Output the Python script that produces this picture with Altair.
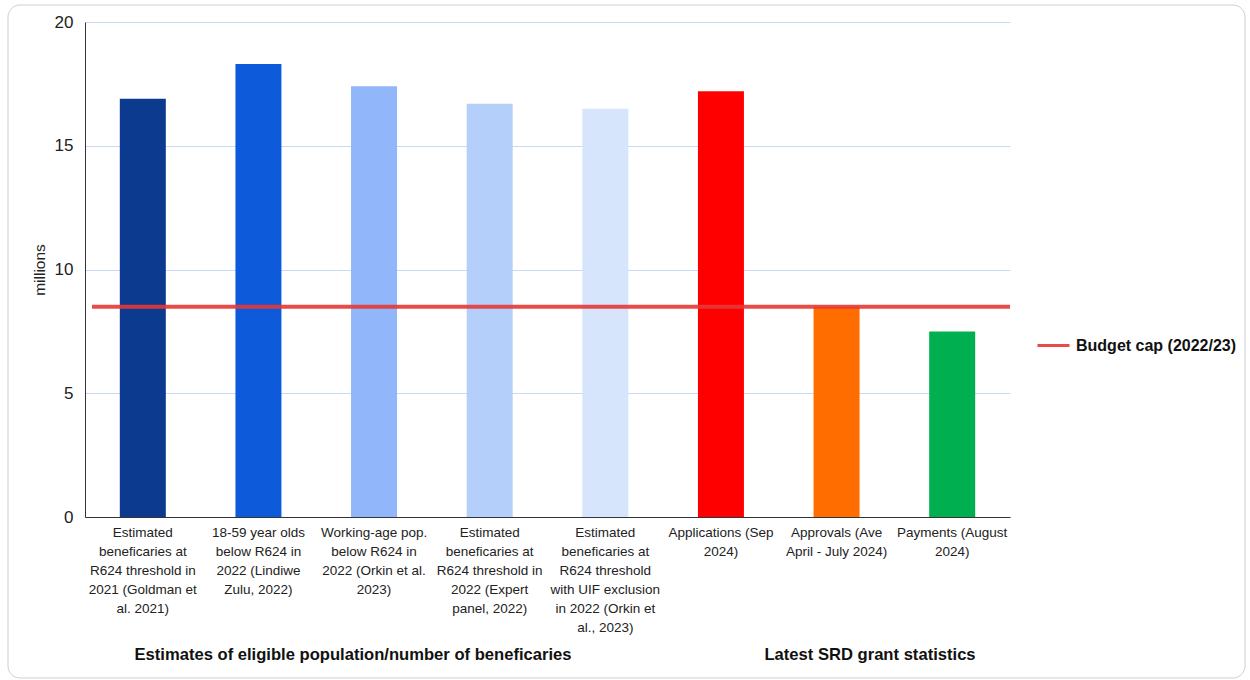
import altair as alt
import pandas as pd

# ---- data ----
CATEGORIES = [
    "Estimated\nbeneficaries at\nR624 threshold in\n2021 (Goldman et\nal. 2021)",
    "18-59 year olds\nbelow R624 in\n2022 (Lindiwe\nZulu, 2022)",
    "Working-age pop.\nbelow R624 in\n2022 (Orkin et al.\n2023)",
    "Estimated\nbeneficaries at\nR624 threshold in\n2022 (Expert\npanel, 2022)",
    "Estimated\nbeneficaries at\nR624 threshold\nwith UIF exclusion\nin 2022 (Orkin et\nal., 2023)",
    "Applications (Sep\n2024)",
    "Approvals (Ave\nApril - July 2024)",
    "Payments (August\n2024)",
]
VALUES = [16.9, 18.3, 17.4, 16.7, 16.5, 17.2, 8.5, 7.5]
BAR_COLORS = ["#0b3a8f", "#0d5bdb", "#91b6f9", "#b5cffb", "#d6e5fb",
              "#ff0000", "#ff6d00", "#00b050"]

BUDGET_LABEL = ["Budget cap (2022/23)"]
BUDGET_VALUE = [8.5]

GROUP_LABELS = ["Estimates of eligible population/number of beneficaries",
                "Latest SRD grant statistics"]

Y_TICKS = [0, 5, 10, 15, 20]

W, H = 925, 495
FONT = "Liberation Sans"

df = pd.DataFrame({"cat": CATEGORIES, "value": VALUES})
budget_df = pd.DataFrame({"name": BUDGET_LABEL, "value": BUDGET_VALUE})

xscale = alt.Scale(domain=CATEGORIES, paddingInner=0, paddingOuter=0)

border = alt.Chart(pd.DataFrame({"a": [0]})).mark_rect(
    fill=None, stroke="#cfcfcf", strokeWidth=1, cornerRadius=12
).encode(x=alt.value(-77), x2=alt.value(1160), y=alt.value(-17), y2=alt.value(656))

bars = alt.Chart(df).mark_bar(size=46).encode(
    x=alt.X("cat:N", scale=xscale, sort=None,
            axis=alt.Axis(labels=False, ticks=False, title=None,
                          domainColor="#333333", domainWidth=1)),
    y=alt.Y("value:Q",
            scale=alt.Scale(domain=[0, 20], nice=False),
            axis=alt.Axis(values=Y_TICKS, title="millions", titleFont=FONT,
                          titleFontSize=15.5, titleFontWeight="normal",
                          titleColor="#222222", titlePadding=7,
                          labelFont=FONT, labelFontSize=17,
                          labelColor="#222222", labelPadding=12, ticks=False,
                          domainColor="#333333", domainWidth=1,
                          gridColor="#c6d9f7", gridWidth=1)),
    color=alt.Color("cat:N", scale=alt.Scale(domain=CATEGORIES, range=BAR_COLORS),
                    legend=None),
)

xlabels = alt.Chart(df).mark_text(
    font=FONT, fontSize=13.5, color="#222222", baseline="top", align="center",
    lineBreak="\n", lineHeight=19
).encode(
    x=alt.X("cat:N", scale=xscale, sort=None),
    y=alt.value(H + 9),
    text="cat:N",
)

group1 = alt.Chart(pd.DataFrame({"t": [GROUP_LABELS[0]]})).mark_text(
    font=FONT, fontSize=16.6, fontWeight="bold", color="#111111",
    baseline="middle", align="center"
).encode(x=alt.value(268), y=alt.value(633), text="t:N")

group2 = alt.Chart(pd.DataFrame({"t": [GROUP_LABELS[1]]})).mark_text(
    font=FONT, fontSize=16.6, fontWeight="bold", color="#111111",
    baseline="middle", align="center"
).encode(x=alt.value(785), y=alt.value(633), text="t:N")

rule = alt.Chart(budget_df).mark_rule(strokeWidth=4, opacity=0.9).encode(
    y=alt.Y("value:Q"),
    x=alt.value(7),
    x2=alt.value(W),
    color=alt.Color("name:N", scale=alt.Scale(range=["#e53935"]),
                    legend=alt.Legend(orient="none", legendX=951, legendY=306,
                                      title=None, symbolType="stroke",
                                      symbolSize=1024, symbolStrokeWidth=3,
                                      labelFont=FONT, labelFontSize=16,
                                      labelFontWeight="bold", labelLimit=400,
                                      labelColor="#111111", labelOffset=5,
                                      padding=0)),
)

chart = alt.layer(border, bars, xlabels, group1, group2, rule).resolve_scale(
    color="independent"
).properties(
    width=W, height=H,
    padding={"left": 85, "top": 22, "right": 240, "bottom": 163},
    autosize=alt.AutoSizeParams(type="none"),
    background="white",
).configure_view(stroke=None)

chart.save("out.html", embed_options={"renderer": "svg", "actions": False})
